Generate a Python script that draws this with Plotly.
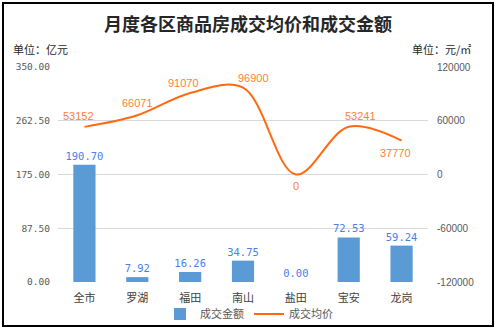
import plotly.graph_objects as go

# District data
districts = ["全市", "罗湖", "福田", "南山", "盐田", "宝安", "龙岗"]
amount = [190.70, 7.92, 16.26, 34.75, 0.00, 72.53, 59.24]   # 成交金额 (亿元)
price = [53152, 66071, 91070, 96900, 0, 53241, 37770]      # 成交均价 (元/㎡)

left_ticks = [0, 87.5, 175, 262.5, 350]
right_ticks = [-120000, -60000, 0, 60000, 120000]

# label offsets for the price labels (pixels)
price_label_shift = [(-6, 11), (0, 12), (-7, 10), (10, 10), (0, -11), (12, 11), (-6, -12)]

BAR_COLOR = "#5B9BD5"
LINE_COLOR = "#FF6A10"
LINE_LABEL = "#FF8033"
BAR_LABEL = "#4A7EEA"
AXIS_TEXT = "#595959"
GRID = "#D9D9D9"


def px_x(px):
    return (px - 58) / 370


def px_y(py):
    return (282 - py) / 215


fig = go.Figure()

fig.add_trace(go.Bar(
    x=districts, y=amount, name="成交金额",
    marker=dict(color=BAR_COLOR, line=dict(width=0)),
    width=0.42,
    text=[f"{v:.2f}" for v in amount], textposition="outside",
    constraintext="none",
    textfont=dict(color=BAR_LABEL, size=10.5, family="DejaVu Sans Mono"),
    cliponaxis=False,
    yaxis="y",
))

fig.add_trace(go.Scatter(
    x=districts, y=price, name="成交均价", mode="lines",
    line=dict(color=LINE_COLOR, width=2, shape="spline", smoothing=1.0),
    yaxis="y2",
))

for d, v, (dx, dy) in zip(districts, price, price_label_shift):
    fig.add_annotation(
        x=d, y=v, xref="x", yref="y2", text=str(v), showarrow=False,
        xshift=dx, yshift=dy,
        font=dict(color=LINE_LABEL, size=11, family="Liberation Sans"),
    )

# Title and unit captions
fig.add_annotation(x=px_x(248), y=px_y(23), xref="paper", yref="paper",
                   text="<b>月度各区商品房成交均价和成交金额</b>",
                   showarrow=False, xanchor="center", yanchor="middle",
                   font=dict(size=18, color="#262626", family="Noto Sans CJK SC"))
fig.add_annotation(x=px_x(11), y=px_y(49), xref="paper", yref="paper", text="单位：亿元",
                   showarrow=False, xanchor="left", yanchor="middle",
                   font=dict(size=11, color="#262626", family="Noto Sans CJK SC"))
fig.add_annotation(x=px_x(473), y=px_y(49), xref="paper", yref="paper", text="单位：元/㎡",
                   showarrow=False, xanchor="right", yanchor="middle",
                   font=dict(size=11, color="#262626", family="Noto Sans CJK SC"))

# outer frame
fig.add_shape(type="rect", xref="paper", yref="paper",
              x0=px_x(3), x1=px_x(493), y0=px_y(326), y1=px_y(3),
              line=dict(color="black", width=2), layer="below")

fig.update_layout(
    width=498, height=330,
    margin=dict(l=58, r=70, t=67, b=48, autoexpand=False),
    paper_bgcolor="white", plot_bgcolor="white",
    showlegend=True,
    legend=dict(orientation="h", x=px_x(249), y=px_y(314), xanchor="center", yanchor="middle",
                font=dict(size=11, color=AXIS_TEXT, family="Noto Sans CJK SC"),
                itemwidth=30, tracegroupgap=0, bgcolor="rgba(0,0,0,0)"),
    xaxis=dict(showgrid=False, showline=False, ticks="",
               tickfont=dict(size=11, color="#404040", family="Noto Sans CJK SC"),
               ticklabelstandoff=8),
    yaxis=dict(range=[0, 350], tickvals=left_ticks,
               ticktext=[f"{t:.2f}" for t in left_ticks],
               showgrid=True, gridcolor=GRID, gridwidth=1, zeroline=False,
               tickfont=dict(size=9.5, color=AXIS_TEXT, family="DejaVu Sans Mono"),
               ticklabelstandoff=7),
    yaxis2=dict(range=[-120000, 120000], tickvals=right_ticks,
                ticktext=[str(t) for t in right_ticks],
                overlaying="y", side="right", showgrid=False, zeroline=False,
                tickfont=dict(size=10, color=AXIS_TEXT, family="Liberation Sans"),
                ticklabelstandoff=8),
)

fig.write_html("out.html")
